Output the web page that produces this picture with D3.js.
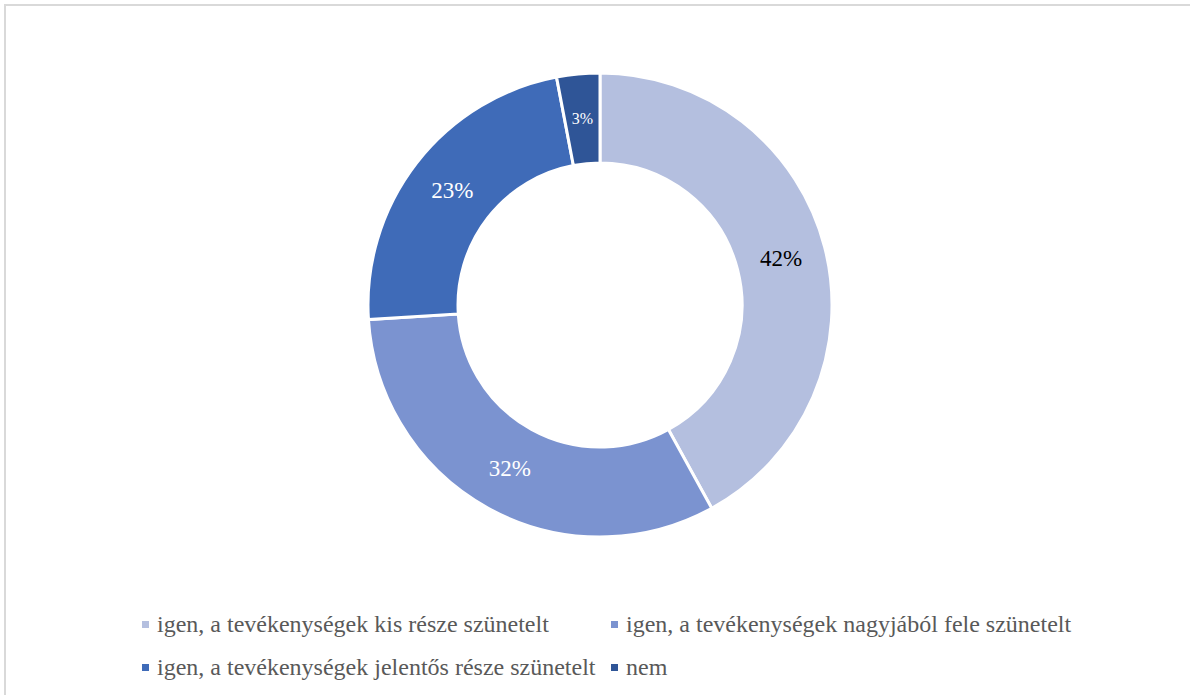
<!DOCTYPE html>
<html>
<head>
<meta charset="utf-8">
<script src="https://cdn.jsdelivr.net/npm/d3@7"></script>
<style>
  html, body { margin: 0; padding: 0; background: #fff; }
  svg { display: block; }
  text { font-family: "Liberation Serif", "DejaVu Serif", "Times New Roman", serif; }
</style>
</head>
<body>
<svg id="chart" width="1190" height="695"></svg>
<script>
const categories = [
  "igen, a tevékenységek kis része szünetelt",
  "igen, a tevékenységek nagyjából fele szünetelt",
  "igen, a tevékenységek jelentős része szünetelt",
  "nem"
];
const values = [42, 32, 23, 3];
const labels = ["42%", "32%", "23%", "3%"];
const colors = ["#b4bfdf", "#7b93d0", "#3f6bb8", "#2f5597"];
const labelColors = ["#000000", "#ffffff", "#ffffff", "#ffffff"];
const labelSizes = [23, 23, 23, 16];

const svg = d3.select("#chart");
const W = 1190, H = 695;

// chart border (top and left visible)
svg.append("rect")
  .attr("x", 5).attr("y", 5)
  .attr("width", W + 10).attr("height", H + 10)
  .attr("fill", "none").attr("stroke", "#d9d9d9").attr("stroke-width", 2);

const cx = 600, cy = 305, rOuter = 232, rInner = 142;
const data = categories.map((c, i) => ({ cat: c, value: values[i], label: labels[i], i }));

const pie = d3.pie().value(d => d.value).sort(null);
const arc = d3.arc().innerRadius(rInner).outerRadius(rOuter);
const arcs = pie(data);

const g = svg.append("g").attr("transform", `translate(${cx},${cy})`);
g.selectAll("path.slice")
  .data(arcs)
  .join("path")
  .attr("class", "slice")
  .attr("d", arc)
  .attr("fill", d => colors[d.data.i])
  .attr("stroke", "#ffffff")
  .attr("stroke-width", 3)
  .attr("stroke-linejoin", "miter");

g.selectAll("text.lbl")
  .data(arcs)
  .join("text")
  .attr("class", "lbl")
  .attr("transform", d => `translate(${arc.centroid(d)})`)
  .attr("text-anchor", "middle")
  .attr("dominant-baseline", "central")
  .attr("font-size", d => labelSizes[d.data.i])
  .attr("fill", d => labelColors[d.data.i])
  .text(d => d.data.label);

// legend
const legendPos = [
  { x: 142, y: 632 },
  { x: 611, y: 632 },
  { x: 142, y: 675 },
  { x: 611, y: 675 }
];
const leg = svg.append("g");
const items = leg.selectAll("g.item")
  .data(data)
  .join("g")
  .attr("class", "item")
  .attr("transform", (d, i) => `translate(${legendPos[i].x},${legendPos[i].y})`);
items.append("rect")
  .attr("x", 0).attr("y", -11)
  .attr("width", 7).attr("height", 7)
  .attr("fill", d => colors[d.i]);
items.append("text")
  .attr("x", 15).attr("y", 0)
  .attr("font-size", 24)
  .attr("fill", "#595959")
  .text(d => d.cat);
</script>
</body>
</html>
